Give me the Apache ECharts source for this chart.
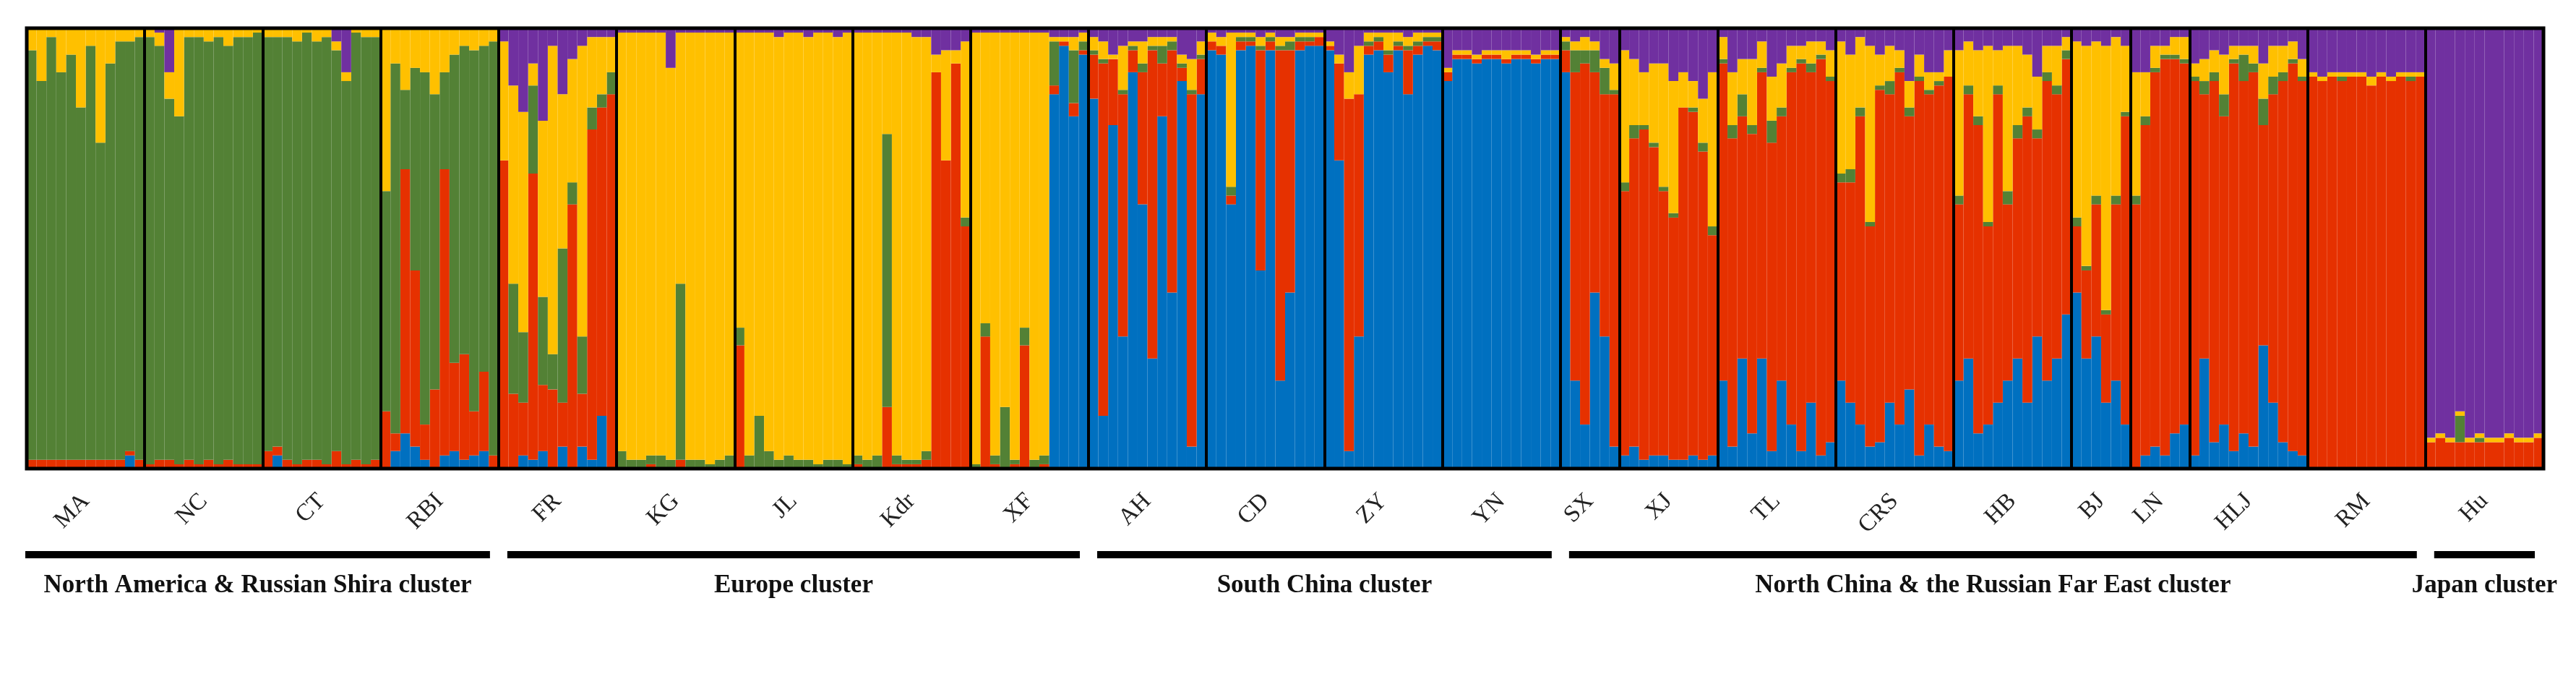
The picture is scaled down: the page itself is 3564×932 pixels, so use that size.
<!DOCTYPE html>
<html>
<head>
<meta charset="utf-8">
<script src="https://cdn.jsdelivr.net/npm/echarts@6/dist/echarts.min.js"></script>
<style>html,body{margin:0;padding:0;background:#fff}#chart{width:3564px;height:932px}</style>
</head>
<body>
<div id="chart"></div>
<script>
// ancestry per individual: [blue, red, green, yellow, purple] (%), stacked bottom -> top
var clusterNames = ['blue', 'red', 'green', 'yellow', 'purple'];
var clusterColors = ['#0070C0', '#E63100', '#538135', '#FFC000', '#7030A0'];

var MA = [[0,2,93,5,0],[0,2,86,12,0],[0,2,96,2,0],[0,2,88,10,0],[0,2,92,6,0],[0,2,80,18,0],[0,2,94,4,0],[0,2,72,26,0],[0,2,90,8,0],[0,2,95,3,0],[3,1,93,3,0],[0,2,96,2,0]];
var NC = [[0,1,97,2,0],[0,2,94,3,1],[0,2,82,6,10],[0,1,79,20,0],[0,2,96,2,0],[0,1,97,2,0],[0,2,95,3,0],[0,1,97,2,0],[0,2,94,4,0],[0,1,97,2,0],[0,1,97,2,0],[0,1,98,1,0]];
var CT = [[0,4,94,2,0],[3,2,93,2,0],[0,2,96,2,0],[0,1,96,3,0],[0,2,97,1,0],[0,2,95,3,0],[0,1,97,2,0],[0,4,91,2,3],[0,1,87,2,10],[0,2,97,1,0],[0,1,97,2,0],[0,2,96,2,0]];
var RBI = [[0,13,50,37,0],[4,4,84,8,0],[8,60,18,14,0],[5,40,46,9,0],[2,8,80,10,0],[0,18,67,15,0],[3,65,22,10,0],[4,20,70,6,0],[2,24,70,4,0],[3,10,82,5,0],[4,18,74,4,0],[0,3,94,3,0]];
var FR = [[0,70,0,27,3],[0,17,25,45,13],[3,12,16,50,19],[2,65,20,5,8],[4,15,20,40,21],[0,18,8,70,4],[5,10,35,35,15],[0,60,5,28,7],[5,12,13,66,4],[2,75,5,16,2],[12,70,3,13,2],[0,85,5,8,2]];
var KG = [[0,0,4,95,1],[0,0,2,97,1],[0,0,2,97,1],[0,1,2,96,1],[0,0,3,96,1],[0,0,2,89,9],[0,2,40,57,1],[0,0,2,97,1],[0,0,2,97,1],[0,0,1,98,1],[0,0,2,97,1],[0,0,3,96,1]];
var JL = [[0,28,4,67,1],[0,0,3,96,1],[0,0,12,87,1],[0,0,4,95,1],[0,0,2,96,2],[0,0,3,96,1],[0,0,2,97,1],[0,0,2,96,2],[0,0,1,98,1],[0,0,2,97,1],[0,0,2,96,2],[0,0,1,98,1]];
var Kdr = [[0,1,2,96,1],[0,0,2,97,1],[0,0,3,96,1],[0,14,62,23,1],[0,1,2,96,1],[0,1,1,97,1],[0,1,1,96,2],[0,2,2,94,2],[0,90,0,4,6],[0,70,0,25,5],[0,92,0,3,5],[0,55,2,40,3]];
var XF = [[0,0,1,98,1],[0,30,3,66,1],[0,1,2,96,1],[0,0,14,85,1],[0,1,1,97,1],[0,28,4,67,1],[0,0,2,97,1],[0,1,2,96,1],[85,2,10,1,2],[96,1,0,1,2],[80,3,12,3,2],[94,1,2,2,1]];
var AH = [[84,10,1,3,2],[12,80,1,4,3],[78,15,0,1,6],[30,55,1,10,4],[90,5,1,1,3],[60,30,2,5,3],[25,70,1,2,2],[80,12,4,2,2],[40,55,2,1,2],[88,3,1,2,6],[5,80,1,7,7],[85,8,1,3,3]];
var CD = [[95,2,0,2,1],[94,2,0,2,2],[60,2,2,35,1],[95,2,1,1,1],[96,1,1,1,1],[45,50,1,2,2],[95,2,1,1,1],[20,75,1,2,2],[40,55,2,1,2],[95,2,1,1,1],[96,1,1,1,1],[96,2,0,1,1]];
var ZY = [[95,1,0,1,3],[70,22,0,2,6],[4,80,0,6,10],[30,55,0,11,4],[94,2,1,2,1],[95,2,1,1,1],[90,4,1,4,1],[95,1,1,2,1],[85,10,1,2,2],[94,2,1,2,1],[96,1,1,1,1],[95,2,1,1,1]];
var YN = [[88,2,0,1,9],[93,1,0,1,5],[93,1,0,1,5],[92,1,0,1,6],[93,1,0,1,5],[93,1,0,1,5],[92,1,0,2,5],[93,1,0,1,5],[93,1,0,1,5],[92,1,0,1,6],[93,1,0,1,5],[93,1,0,1,5]];
var SX = [[90,5,2,1,2],[20,70,5,2,3],[10,82,3,3,2],[40,50,5,2,3],[30,55,6,2,7],[5,80,1,6,8]];
var XJ = [[3,60,2,30,5],[5,70,3,15,7],[2,75,1,12,10],[3,70,1,18,8],[3,60,1,28,8],[2,55,1,30,12],[2,80,0,8,10],[3,78,1,6,12],[2,70,2,10,16],[3,50,2,35,10]];
var TL = [[20,72,1,5,2],[5,70,3,12,10],[25,55,5,8,7],[8,68,2,15,7],[25,65,1,6,3],[4,70,5,10,11],[20,60,2,10,8],[10,80,1,5,4],[4,88,1,3,4],[15,75,2,5,3],[3,90,1,3,3],[6,82,1,6,5]];
var CRS = [[20,45,2,30,3],[15,50,3,26,6],[10,70,2,16,2],[5,50,1,40,4],[6,80,1,7,6],[15,70,3,8,4],[10,80,1,4,5],[18,62,2,6,12],[3,85,1,5,6],[10,75,1,4,10],[5,82,1,2,10],[4,85,0,6,5]];
var HB = [[20,40,2,33,5],[25,60,2,10,3],[8,70,2,15,5],[10,45,1,40,4],[15,70,2,8,5],[20,40,3,33,4],[25,50,3,18,4],[15,65,2,12,6],[30,45,2,12,11],[20,68,2,6,4],[25,60,2,9,4],[35,58,2,3,2]];
var BJ = [[40,15,2,40,3],[25,20,1,50,4],[30,30,2,35,3],[15,20,1,60,4],[20,40,2,36,2],[10,70,1,15,4]];
var LN = [[0,60,2,28,10],[3,75,2,10,10],[5,85,1,5,4],[3,90,1,2,4],[8,85,1,4,2],[10,82,1,5,2]];
var HLJ = [[3,85,1,3,8],[25,60,3,5,7],[6,82,2,5,5],[10,70,5,9,6],[4,88,1,3,4],[8,80,6,2,4],[5,85,2,4,4],[28,50,6,8,8],[15,70,4,7,4],[6,82,2,6,4],[4,88,1,4,3],[3,85,1,4,7]];
var RM = [[0,89,0,1,10],[0,88,0,1,11],[0,89,0,1,10],[0,88,1,1,10],[0,89,0,1,10],[0,89,0,1,10],[0,87,0,2,11],[0,89,0,1,10],[0,88,0,1,11],[0,89,0,1,10],[0,88,1,1,10],[0,89,0,1,10]];
var Hu = [[0,6,0,1,93],[0,7,0,1,92],[0,6,0,1,93],[0,6,6,1,87],[0,6,0,1,93],[0,6,1,1,92],[0,6,0,1,93],[0,6,0,1,93],[0,7,0,1,92],[0,6,0,1,93],[0,6,0,1,93],[0,7,0,1,92]];

var popNames = ['MA','NC','CT','RBI','FR','KG','JL','Kdr','XF','AH','CD','ZY','YN','SX','XJ','TL','CRS','HB','BJ','LN','HLJ','RM','Hu'];
var pops = [MA,NC,CT,RBI,FR,KG,JL,Kdr,XF,AH,CD,ZY,YN,SX,XJ,TL,CRS,HB,BJ,LN,HLJ,RM,Hu];

// cluster groups: [label, first pop index, last pop index]
var groups = [
  ['North America & Russian Shira cluster', 0, 3],
  ['Europe cluster', 4, 8],
  ['South China cluster', 9, 12],
  ['North China & the Russian Far East cluster', 13, 21],
  ['Japan cluster', 22, 22]
];

var individuals = [];
var bounds = [0];
var centers = [];
pops.forEach(function (p) {
  var start = individuals.length;
  p.forEach(function (d) { individuals.push(d); });
  centers.push((start + individuals.length) / 2);
  bounds.push(individuals.length);
});
var N = individuals.length;

var series = clusterNames.map(function (name, k) {
  return {
    name: name, type: 'bar', stack: 'q', barCategoryGap: 0, silent: true,
    itemStyle: { color: clusterColors[k] },
    data: individuals.map(function (d) { return d[k]; })
  };
});
series.push({
  type: 'line', xAxisIndex: 1, data: [[0, 0]], symbol: 'none', silent: true,
  lineStyle: { width: 0 },
  markLine: {
    symbol: 'none', silent: true, label: { show: false }, animation: false,
    lineStyle: { color: '#000', width: 4, type: 'solid' },
    data: bounds.slice(1, -1).map(function (b) { return { xAxis: b }; })
  }
});

var chart = echarts.init(document.getElementById('chart'));
chart.setOption({
  animation: false,
  backgroundColor: '#fff',
  grid: { left: 37, right: 45, top: 39, bottom: 284, show: true, borderColor: '#000', borderWidth: 5, z: 10 },
  xAxis: [
    { type: 'category', data: individuals.map(function (d, i) { return i; }), show: false },
    {
      type: 'value', min: 0, max: N, position: 'bottom',
      axisLine: { show: false }, axisTick: { show: false }, splitLine: { show: false },
      axisLabel: {
        customValues: centers, rotate: 45, margin: 40,
        fontFamily: 'Liberation Serif', fontSize: 33, color: '#222',
        formatter: function (v) { return popNames[centers.indexOf(v)] || ''; }
      }
    }
  ],
  yAxis: { type: 'value', min: 0, max: 100, show: false },
  series: series
});

var graphics = [];
groups.forEach(function (g) {
  var x0 = chart.convertToPixel({ xAxisIndex: 1 }, bounds[g[1]]);
  var x1 = chart.convertToPixel({ xAxisIndex: 1 }, bounds[g[2] + 1]);
  if (g[1] === 0) x0 -= 2; else x0 += 12;
  x1 -= 12;
  graphics.push({ type: 'rect', shape: { x: x0, y: 762, width: x1 - x0, height: 10 }, style: { fill: '#000' } });
  graphics.push({
    type: 'text', x: (x0 + x1) / 2, y: 810,
    style: { text: g[0], fill: '#111', font: 'bold 35px "Liberation Serif"', align: 'center', verticalAlign: 'middle' }
  });
});
chart.setOption({ graphic: graphics });
</script>
</body>
</html>
